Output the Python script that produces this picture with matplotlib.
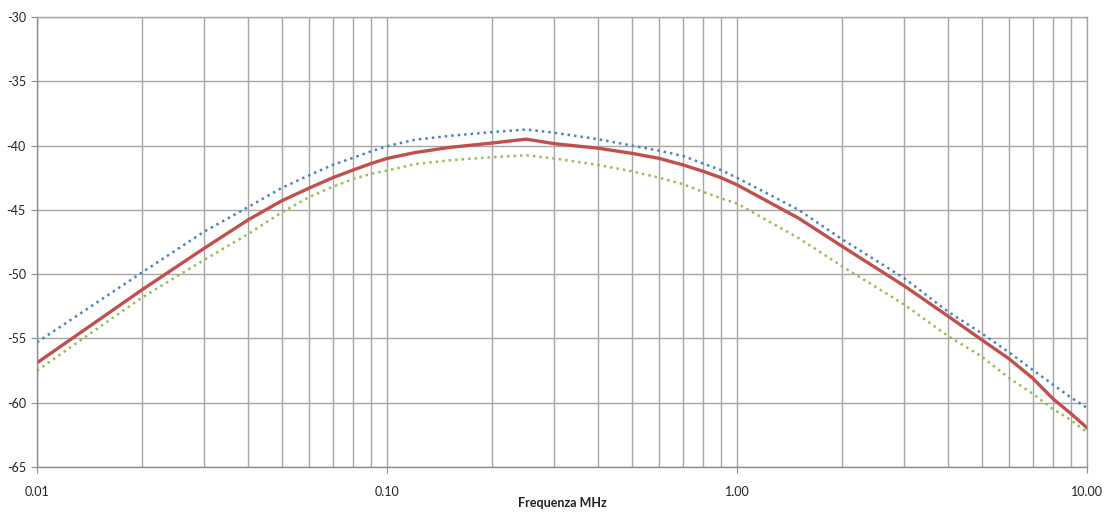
import matplotlib.pyplot as plt
from matplotlib.ticker import FixedLocator, FixedFormatter, NullFormatter

plt.rcParams['font.family'] = ['Lato', 'DejaVu Sans']

# frequency points (MHz)
freq = [0.01, 0.02, 0.03, 0.04, 0.05, 0.06, 0.07, 0.08, 0.09, 0.1, 0.12, 0.15, 0.2, 0.25,
        0.3, 0.4, 0.5, 0.6, 0.7, 0.8, 0.9, 1.0, 1.5, 2, 3, 4, 5, 6, 7, 8, 9, 10]

# upper limit (blue dotted)
upper = [-55.3, -49.85, -46.7, -44.8, -43.3, -42.3, -41.5, -40.95, -40.45, -40.05, -39.55, -39.25,
         -38.95, -38.75, -39.0, -39.5, -40.0, -40.4, -40.8, -41.4, -41.9, -42.5, -45.0, -47.3,
         -50.3, -52.9, -54.6, -56.1, -57.45, -58.6, -59.6, -60.4]
# measured (red)
measured = [-56.9, -51.2, -48.0, -45.8, -44.3, -43.3, -42.5, -41.9, -41.4, -41.0, -40.55, -40.15,
            -39.8, -39.5, -39.85, -40.2, -40.6, -41.0, -41.5, -42.0, -42.5, -43.05, -45.65, -47.85,
            -50.9, -53.25, -55.1, -56.6, -58.1, -59.7, -60.85, -61.95]
# lower limit (green dotted)
lower = [-57.5, -51.8, -48.9, -46.9, -45.2, -44.0, -43.2, -42.6, -42.2, -41.95, -41.45, -41.15,
         -40.9, -40.75, -41.0, -41.5, -42.0, -42.5, -43.0, -43.6, -44.1, -44.5, -47.2, -49.4,
         -52.35, -54.8, -56.4, -58.1, -59.3, -60.5, -61.35, -62.3]

xticks = [0.01, 0.1, 1, 10]
xticklabels = ['0.01', '0.10', '1.00', '10.00']
yticks = [-65, -60, -55, -50, -45, -40, -35, -30]

fig = plt.figure(figsize=(11.16, 5.17), dpi=100)
ax = fig.add_axes([37/1116, 50/517, 1050/1116, 450/517])

grid_c = '#a6a6a6'
ax.set_xscale('log')
ax.set_xlim(0.01, 10)
ax.set_ylim(-65, -30)

ax.plot(freq, upper, color='#4f81bd', lw=1.8, linestyle=(0, (1, 1.6)))
ax.plot(freq, lower, color='#9bbb59', lw=1.8, linestyle=(0, (1, 1.6)))
ax.plot(freq, measured, color='#c0504d', lw=2.4)

ax.xaxis.set_major_locator(FixedLocator(xticks))
ax.xaxis.set_major_formatter(FixedFormatter(xticklabels))
minors = [m * 10.0 ** e for e in (-2, -1, 0) for m in range(2, 10)]
ax.xaxis.set_minor_locator(FixedLocator(minors))
ax.xaxis.set_minor_formatter(NullFormatter())
ax.set_yticks(yticks)
ax.set_yticklabels([str(v) for v in yticks])

ax.grid(True, which='both', axis='x', color=grid_c, lw=1)
ax.grid(True, which='major', axis='y', color=grid_c, lw=1)
ax.set_axisbelow(True)

for s in ax.spines.values():
    s.set_color(grid_c)
    s.set_linewidth(1)
ax.spines['bottom'].set_color('#8c8c8c')
ax.spines['left'].set_color('#8c8c8c')

ax.tick_params(axis='both', which='major', length=4, color='#8c8c8c',
               labelsize=9, labelcolor='#222222')
ax.tick_params(axis='x', which='major', pad=10)
ax.tick_params(axis='x', which='minor', length=0)
ax.tick_params(axis='y', pad=4)

ax.set_xlabel('Frequenza MHz', fontsize=9, fontweight='bold', labelpad=-1, color='#222222')

fig.savefig('out.png', dpi=100)
